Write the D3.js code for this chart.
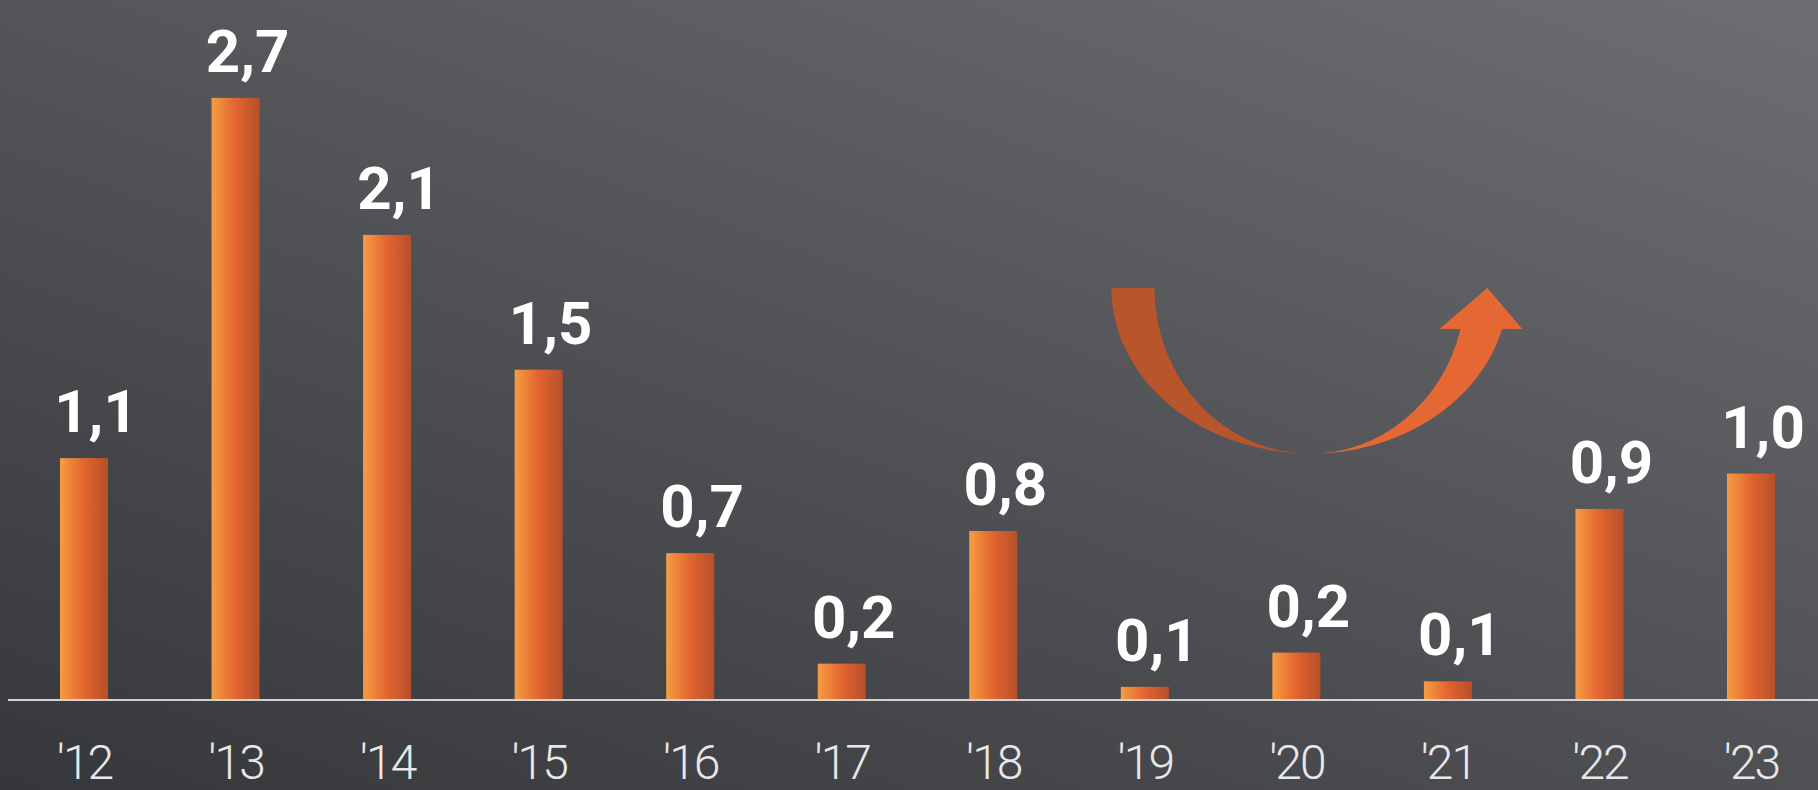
<!DOCTYPE html>
<html>
<head>
<meta charset="utf-8">
<script src="https://cdn.jsdelivr.net/npm/d3@7"></script>
<style>
  html, body { margin: 0; padding: 0; background: #45464a; overflow: hidden; }
  svg { display: block; }
</style>
</head>
<body>
<svg id="chart" width="1818" height="790"></svg>
<script>
// ---- data ----
const categories = ["'12", "'13", "'14", "'15", "'16", "'17", "'18", "'19", "'20", "'21", "'22", "'23"];
const values = [1.09, 2.72, 2.10, 1.49, 0.66, 0.16, 0.76, 0.055, 0.21, 0.08, 0.86, 1.02];

// ---- layout ----
const W = 1818, H = 790;
const baseY = 699;
const svg = d3.select("#chart");

const x = d3.scalePoint().domain(categories).range([84, 1751]);
const y = d3.scaleLinear().domain([0, 3]).range([baseY, baseY - 3 * 221]);
const barW = 48;
const fmt = d3.formatLocale({decimal: ",", thousands: ".", grouping: [3], currency: ["", "€"]}).format(".1f");

const defs = svg.append("defs");
const bg = defs.append("linearGradient").attr("id", "bg")
  .attr("gradientUnits", "userSpaceOnUse")
  .attr("x1", 0).attr("y1", H).attr("x2", 459).attr("y2", -487);
bg.append("stop").attr("offset", 0).attr("stop-color", "#36373b");
bg.append("stop").attr("offset", 1).attr("stop-color", "#6d6e72");

const bar = defs.append("linearGradient").attr("id", "bar")
  .attr("x1", 0).attr("y1", 0).attr("x2", 1).attr("y2", 0);
bar.append("stop").attr("offset", 0).attr("stop-color", "#f59d43");
bar.append("stop").attr("offset", 0.5).attr("stop-color", "#e3642f");
bar.append("stop").attr("offset", 1).attr("stop-color", "#b6502b");

svg.append("rect").attr("width", W).attr("height", H).attr("fill", "url(#bg)");

// bars
svg.append("g").selectAll("rect").data(values).join("rect")
  .attr("x", (d, i) => x(categories[i]) - barW / 2)
  .attr("y", d => y(d))
  .attr("width", barW)
  .attr("height", d => y(0) - y(d))
  .attr("fill", "url(#bar)");

// baseline
svg.append("line")
  .attr("x1", 8).attr("x2", W)
  .attr("y1", baseY + 1).attr("y2", baseY + 1)
  .attr("stroke", "#d2d2d2").attr("stroke-width", 2);

// value labels
svg.append("g").selectAll("text").data(values).join("text")
  .attr("x", (d, i) => x(categories[i]) + 12)
  .attr("y", d => y(d) - 26)
  .attr("text-anchor", "middle")
  .attr("fill", "#ffffff")
  .style("font-family", "Roboto, 'Open Sans', sans-serif")
  .style("font-weight", 700)
  .style("font-size", "60px")
  .text(d => fmt(d));

// category axis labels
const xAxis = d3.axisBottom(x).tickSize(0).tickPadding(0);
const gx = svg.append("g").attr("transform", `translate(0,${baseY})`).call(xAxis);
gx.select(".domain").remove();
gx.selectAll("text")
  .attr("y", 80).attr("dy", null)
  .attr("fill", "#e8e8e8")
  .style("font-family", "Roboto, 'Open Sans', sans-serif")
  .style("font-weight", 300)
  .style("font-size", "48px")
  .style("letter-spacing", "-2px");

// U-turn arrow annotation
const acx = x("'20") + 14;
const arcTop = y(1.86), arcBot = y(1.11);
const ry = arcBot - arcTop;
const rOut = 199, rIn = 156;
const headDy = 41;
const kk = Math.sqrt(1 - (headDy / ry) ** 2);
svg.append("path")
  .attr("fill", "#b8552a")
  .attr("d", `M${acx - rOut},${arcTop} A${rOut},${ry} 0 0 0 ${acx},${arcBot} A${rIn},${ry} 0 0 1 ${acx - rIn},${arcTop} Z`);
svg.append("path")
  .attr("fill", "#e56834")
  .attr("d", `M${acx},${arcBot} A${rOut - 1},${ry} 0 0 0 ${acx + (rOut - 1) * kk},${arcTop + headDy}
     L${acx + 212},${arcTop + headDy} L${acx + 177},${arcTop} L${acx + 129},${arcTop + headDy}
     L${acx + (rIn - 1) * kk},${arcTop + headDy} A${rIn - 1},${ry} 0 0 1 ${acx},${arcBot} Z`);
</script>
</body>
</html>
